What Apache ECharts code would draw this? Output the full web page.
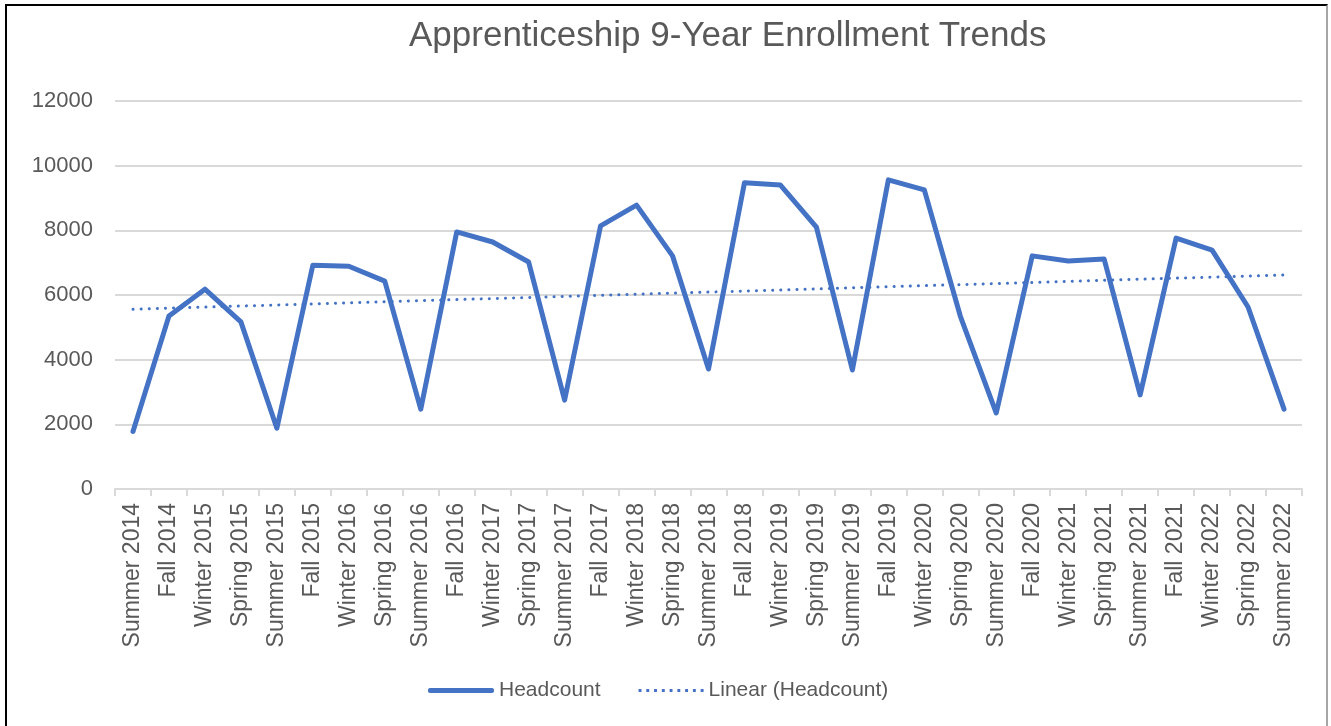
<!DOCTYPE html>
<html>
<head>
<meta charset="utf-8">
<script src="https://cdn.jsdelivr.net/npm/echarts@6/dist/echarts.min.js"></script>
<style>
html,body{margin:0;padding:0;background:#fff;}
#frame{position:absolute;left:5px;top:4px;width:1323px;height:730px;border-left:2px solid #000;border-top:2px solid #000;border-right:2px solid #a6a6a6;box-sizing:border-box;}
#chart{position:absolute;left:0;top:0;width:1331px;height:726px;}
</style>
</head>
<body>
<div id="frame"></div>
<div id="chart"></div>
<script>
const categories = ["Summer 2014","Fall 2014","Winter 2015","Spring 2015","Summer 2015","Fall 2015","Winter 2016","Spring 2016","Summer 2016","Fall 2016","Winter 2017","Spring 2017","Summer 2017","Fall 2017","Winter 2018","Spring 2018","Summer 2018","Fall 2018","Winter 2019","Spring 2019","Summer 2019","Fall 2019","Winter 2020","Spring 2020","Summer 2020","Fall 2020","Winter 2021","Spring 2021","Summer 2021","Fall 2021","Winter 2022","Spring 2022","Summer 2022"];
const headcount = [1780,5350,6180,5170,1880,6920,6890,6430,2470,7950,7640,7020,2750,8140,8780,7210,3710,9470,9400,8100,3680,9560,9250,5350,2350,7210,7050,7110,2910,7760,7390,5630,2470];
const yTicks = [0,2000,4000,6000,8000,10000,12000];

// Linear trend (least squares) of the Headcount series
const n = headcount.length;
let sx=0, sy=0, sxx=0, sxy=0;
headcount.forEach((v,i)=>{sx+=i; sy+=v; sxx+=i*i; sxy+=i*v;});
const slope = (n*sxy - sx*sy)/(n*sxx - sx*sx);
const intercept = (sy - slope*sx)/n;
const trend = headcount.map((v,i)=>+(intercept + slope*i).toFixed(1));

// legend icons
const solidIcon = 'path://M2,0H64C65.1,0 66,0.9 66,2V3C66,4.1 65.1,5 64,5H2C0.9,5 0,4.1 0,3V2C0,0.9 0.9,0 2,0Z';
let dotPath = 'M0,0L0.01,0L0,0Z M0,5L0.01,5L0,5Z';
for (let k=0;k<9;k++){ const x=1+8*k; dotPath += ` M${x},1H${x+3}V4H${x}Z`; }
dotPath += ' M66,0L66.01,0L66,0Z';
const dotIcon = 'path://' + dotPath;

const chart = echarts.init(document.getElementById('chart'));
const txt = '#595959';
chart.setOption({
  animation:false,
  backgroundColor:'transparent',
  title:{text:'Apprenticeship 9-Year Enrollment Trends',left:404,top:14,
    textStyle:{fontFamily:'Liberation Sans',fontSize:35,fontWeight:'normal',color:txt}},
  grid:{left:115,right:29,top:101,bottom:237,containLabel:false},
  legend:{bottom:20,left:423,itemWidth:66,itemHeight:5,itemGap:37,
    textStyle:{fontFamily:'Liberation Sans',fontSize:21,color:txt},
    data:[{name:'Headcount',icon:solidIcon},{name:'Linear (Headcount)',icon:dotIcon}]},
  xAxis:{type:'category',data:categories,boundaryGap:true,
    axisLine:{lineStyle:{color:'#d9d9d9',width:2}},
    axisTick:{show:true,length:7,lineStyle:{color:'#d9d9d9',width:2},alignWithLabel:false},
    axisLabel:{rotate:90,interval:0,margin:14,fontFamily:'Liberation Sans',fontSize:23,color:txt}},
  yAxis:{type:'value',min:yTicks[0],max:yTicks[yTicks.length-1],interval:2000,
    axisLine:{show:false},axisTick:{show:false},
    splitLine:{lineStyle:{color:'#d9d9d9',width:2}},
    axisLabel:{margin:22,fontFamily:'Liberation Sans',fontSize:22,color:txt,formatter:v=>String(v)}},
  series:[
    {name:'Headcount',type:'line',data:headcount,symbol:'none',showSymbol:false,
      lineStyle:{color:'#4472C4',width:5,cap:'round',join:'round'},itemStyle:{color:'#4472C4'}},
    {name:'Linear (Headcount)',type:'line',data:trend,symbol:'none',showSymbol:false,
      lineStyle:{color:'#4472C4',width:3,type:[0.1,8],cap:'round'},itemStyle:{color:'#4472C4'}}
  ]
});
</script>
</body>
</html>
